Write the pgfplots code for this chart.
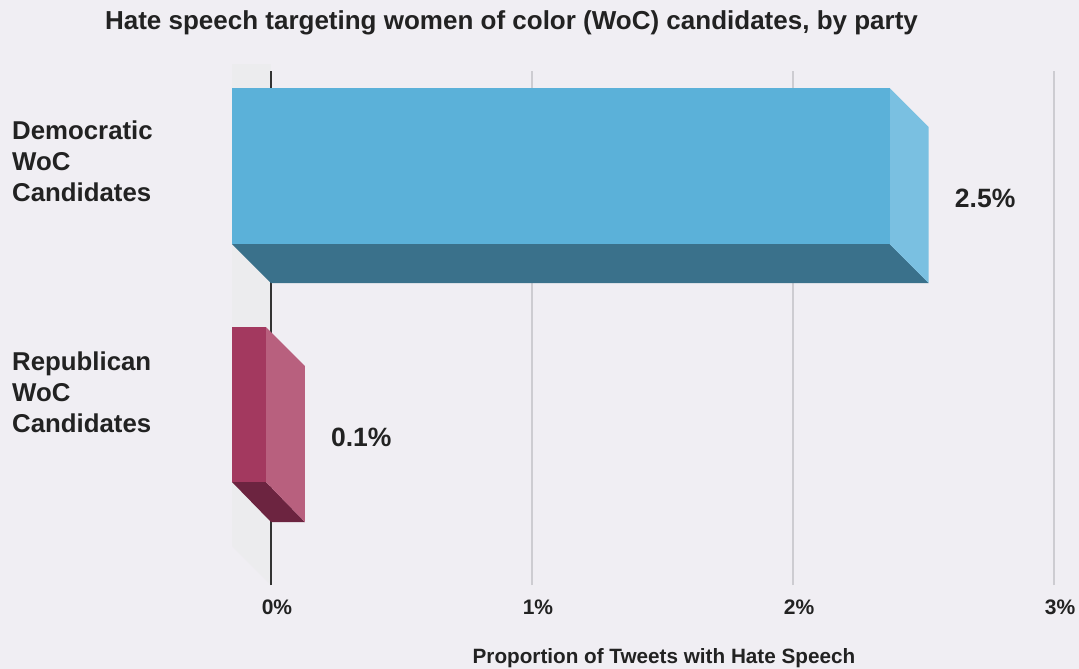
\documentclass[border=0pt]{standalone}
\usepackage{pgfplots}
\pgfplotsset{compat=1.18}
\usepackage{fontspec}
\setmainfont{Liberation Sans}
\definecolor{bg}{HTML}{F0EEF3}
\definecolor{wall}{HTML}{ECECEE}
\definecolor{gridc}{HTML}{CDCCD1}
\definecolor{txt}{HTML}{222222}
\definecolor{demF}{HTML}{5BB1D9}
\definecolor{demS}{HTML}{7AC0E1}
\definecolor{demB}{HTML}{3A718B}
\definecolor{repF}{HTML}{A3395F}
\definecolor{repS}{HTML}{B8607E}
\definecolor{repB}{HTML}{6C2440}
\begin{document}
\begin{tikzpicture}
\useasboundingbox[fill=bg] (0pt,0pt) rectangle (1079pt,-669pt);
\begin{axis}[
  at={(232pt,-585pt)}, anchor=south west,
  scale only axis, width=822pt, height=514pt,
  xmin=-0.1494, xmax=3.0, ymin=0, ymax=514,
  clip=false,
  axis line style={draw=none}, tick style={draw=none},
  xtick={0,1,2,3}, xticklabels={0\%,1\%,2\%,3\%},
  xticklabel style={font=\bfseries\fontsize{21}{24}\selectfont, text=txt, anchor=center, xshift=6pt, yshift=-22pt},
  xmajorgrids, grid style={color=gridc, line width=1.2pt},
  ytick={193,424},
  yticklabels={{Republican\\WoC\\Candidates},{Democratic\\WoC\\Candidates}},
  yticklabel style={font=\bfseries\fontsize{25.8}{31}\selectfont, text=txt, align=left, anchor=west, inner sep=0pt, xshift=-220pt},
  xlabel={Proportion of Tweets with Hate Speech},
  xlabel style={font=\bfseries\fontsize{20.7}{24}\selectfont, text=txt, at={(rel axis cs:0.5255,0)}, anchor=center, yshift=-73pt},
  title={Hate speech targeting women of color (WoC) candidates, by party},
  title style={font=\bfseries\fontsize{26}{30}\selectfont, text=txt, at={(rel axis cs:0.34,1)}, anchor=center, yshift=42pt},
]
% back wall
\addplot[fill=wall, draw=none] coordinates {(-0.1494,39) (0,0) (0,521) (-0.1494,521)};
% zero line
\addplot[draw=black!80, line width=2pt] coordinates {(0,0) (0,514)};
% Democratic: value 2.52
\addplot[fill=demB, draw=none] coordinates {(-0.1494,341) (2.3706,341) (2.52,302) (0,302)};
\addplot[fill=demS, draw=none] coordinates {(2.3706,341) (2.3706,497) (2.52,458) (2.52,302)};
\addplot[fill=demF, draw=none] coordinates {(-0.1494,341) (2.3706,341) (2.3706,497) (-0.1494,497)};
% Republican: value 0.13
\addplot[fill=repB, draw=none] coordinates {(-0.1494,103) (-0.0194,103) (0.13,63) (0,63)};
\addplot[fill=repS, draw=none] coordinates {(-0.0194,103) (-0.0194,258) (0.13,219) (0.13,63)};
\addplot[fill=repF, draw=none] coordinates {(-0.1494,103) (-0.0194,103) (-0.0194,258) (-0.1494,258)};
% value labels
\addplot[draw=none, mark=none, point meta=explicit symbolic, nodes near coords,
  nodes near coords style={anchor=west, inner sep=0pt, xshift=26pt, yshift=7pt, font=\bfseries\fontsize{26.5}{30}\selectfont, text=txt}]
  coordinates {(2.52,380) [2.5\%] (0.13,141) [0.1\%]};
\end{axis}
\end{tikzpicture}
\end{document}
